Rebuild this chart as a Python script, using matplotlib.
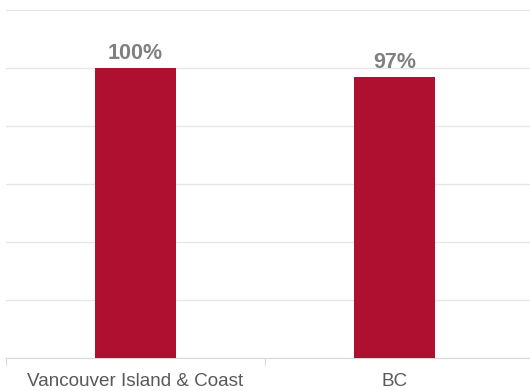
import matplotlib
matplotlib.use("Agg")
import matplotlib.pyplot as plt

categories = ["Vancouver Island & Coast", "BC"]
values = [100, 97]
labels = ["100%", "97%"]

plt.rcParams['font.family'] = ['Liberation Sans', 'DejaVu Sans']

fig = plt.figure(figsize=(5.30, 3.91), dpi=100)
ax = fig.add_axes([6/530, 1 - 358/391, 524/530, 348/391])

x = list(range(len(categories)))
bars = ax.bar(x, values, width=0.313, color='#B01030', zorder=3)
for xi, v, lab in zip(x, values, labels):
    ax.text(xi, v + 1.3, lab, ha='center', va='bottom', fontsize=15.5,
            fontweight='bold', color='#808080')

ax.set_xlim(-0.5, len(categories) - 0.5 + 6/259)
ax.set_ylim(0, 120)
ax.set_yticks(range(0, 121, 20))
ax.yaxis.grid(True, color='#E6E6E6', linewidth=1)
ax.set_yticklabels([])
ax.tick_params(axis='y', length=0)
ax.set_xticks([-0.5, 0.5])
ax.set_xticklabels([])
ax.set_xticks(x, minor=True)
ax.set_xticklabels(categories, minor=True, fontsize=13.6, color='#595959')
ax.tick_params(axis='x', which='major', length=5, color='#D9D9D9')
ax.tick_params(axis='x', which='minor', length=0, pad=11)
for s in ['top', 'right', 'left']:
    ax.spines[s].set_visible(False)
ax.spines['bottom'].set_color('#D9D9D9')
ax.set_axisbelow(True)

fig.savefig('out.png', dpi=100)
